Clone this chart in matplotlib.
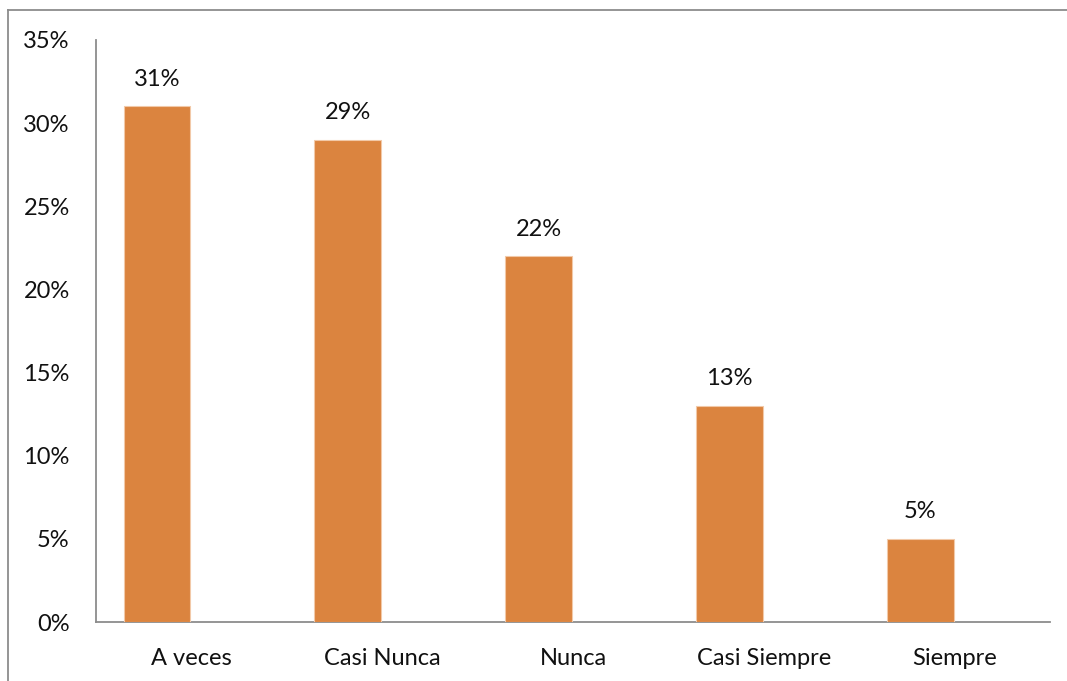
import matplotlib
matplotlib.use('Agg')
import matplotlib.pyplot as plt
import numpy as np
from matplotlib.lines import Line2D

plt.rcParams['font.family'] = ['Lato', 'DejaVu Sans']

categories = ['A veces', 'Casi Nunca', 'Nunca', 'Casi Siempre', 'Siempre']
values = [31, 29, 22, 13, 5]
yticks = [0, 5, 10, 15, 20, 25, 30, 35]

BAR = '#DB843F'
AXIS = '#8C8C8C'
FS = 17

fig = plt.figure(figsize=(10.67, 6.81), dpi=100)
ax = fig.add_axes([0.09, 0.0866, 0.894, 0.8547])

x = np.arange(len(categories))
w = 0.35
# bars sit just left of each category centre
bars = ax.bar(x - 0.005, values, -w, align='edge', color=BAR,
              edgecolor='#F2C9A8', linewidth=0.8, zorder=3)
for b, v in zip(bars, values):
    ax.text(b.get_x() + b.get_width() / 2, v + 1.0, f"{v}%",
            ha='center', va='bottom', fontsize=FS, color='#111111')

ax.set_xlim(-0.5, len(categories) - 0.5)
ax.set_ylim(0, 35)
ax.set_yticks(yticks)
ax.set_yticklabels([f"{t}%" for t in yticks], fontsize=FS, color='#111111')
ax.set_xticks(x)
ax.set_xticklabels(categories, fontsize=FS, color='#111111')
ax.tick_params(axis='both', length=0)
ax.tick_params(axis='y', pad=19)
ax.tick_params(axis='x', pad=19)

for s in ['top', 'right']:
    ax.spines[s].set_visible(False)
for s in ['left', 'bottom']:
    ax.spines[s].set_color(AXIS)
    ax.spines[s].set_linewidth(1.3)

# chart area frame
fx0 = 8 / 1067
fy1 = 1 - 10 / 681
fig.add_artist(Line2D([fx0, fx0], [0, fy1], transform=fig.transFigure,
                      color=AXIS, lw=1.3))
fig.add_artist(Line2D([fx0, 1], [fy1, fy1], transform=fig.transFigure,
                      color=AXIS, lw=1.3))

fig.savefig('out.png', dpi=100)
